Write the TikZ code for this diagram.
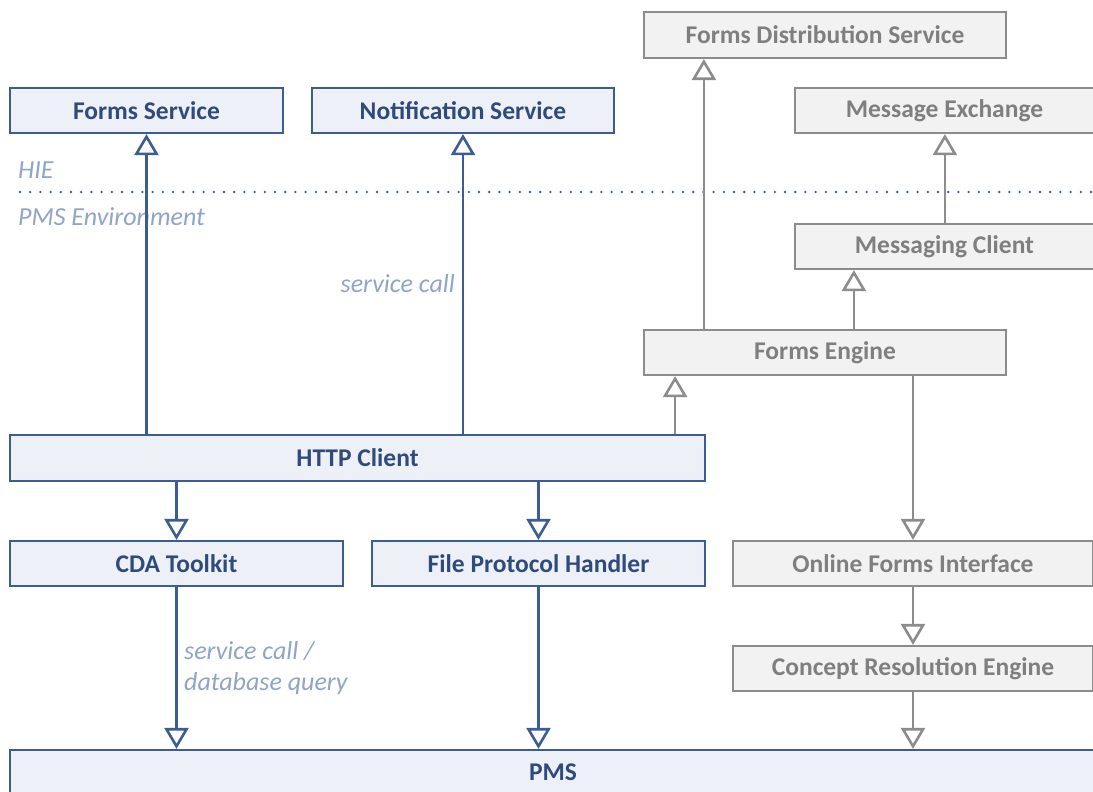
\documentclass[tikz,border=0pt]{standalone}
\usepackage{fontspec}
\setmainfont{Carlito}
\usetikzlibrary{arrows.meta}

\definecolor{pmsline}{HTML}{3B5D92}
\definecolor{pmsfill}{HTML}{EDF1F7}
\definecolor{pmstext}{HTML}{2F4B7C}
\definecolor{hieline}{HTML}{8C8C8C}
\definecolor{hiefill}{HTML}{F2F2F2}
\definecolor{hietext}{HTML}{7F7F7F}
\definecolor{notetext}{HTML}{8FA4C6}

\tikzset{
  pmsbox/.style={draw=pmsline, fill=pmsfill, text=pmstext, line width=2.2pt,
    inner sep=0pt, font=\bfseries\fontsize{25.5}{28}\selectfont},
  hiebox/.style={draw=hieline, fill=hiefill, text=hietext, line width=2.2pt,
    inner sep=0pt, font=\bfseries\fontsize{25.5}{28}\selectfont},
  note/.style={text=notetext, inner sep=0pt, font=\itshape\fontsize{26}{31}\selectfont},
  pmsarrow/.style={draw=pmsline, line width=2.6pt, -{Triangle[open,length=21pt,width=24pt]}},
  hiearrow/.style={draw=hieline, line width=2.6pt, -{Triangle[open,length=21pt,width=24pt]}}
}

\begin{document}
\begin{tikzpicture}[x=1pt,y=-1pt]
\clip (0,0) rectangle (1093,792);

% services in the HIE
\node[pmsbox, minimum width=273pt, minimum height=45pt] (fs) at (146.5,110.5) {Forms Service};
\node[pmsbox, minimum width=302pt, minimum height=45pt] (ns) at (463,110.5) {Notification Service};
\node[hiebox, minimum width=362pt, minimum height=46pt] (fds) at (825,35) {Forms Distribution Service};
\node[hiebox, minimum width=299pt, minimum height=45pt] (me) at (944.5,110.5) {Message Exchange};

% environment border
\draw[pmsline, line width=2.6pt, line cap=round, dash pattern=on 0pt off 10.2pt] (20,192) -- (1093,192);
\node[note, anchor=west] (hie) at (18,170) {HIE};
\node[note, anchor=west] (env) at (18,217) {PMS Environment};

% forms engine side
\node[hiebox, minimum width=299pt, minimum height=45pt] (mc) at (944.5,246.5) {Messaging Client};
\node[hiebox, minimum width=362pt, minimum height=45pt] (fe) at (825,352.5) {Forms Engine};

% http client and handlers
\node[pmsbox, minimum width=695pt, minimum height=46pt] (http) at (357.5,458) {HTTP Client};
\node[pmsbox, minimum width=333pt, minimum height=45pt] (cda) at (176.5,563.5) {CDA Toolkit};
\node[pmsbox, minimum width=333pt, minimum height=45pt] (fph) at (538.5,563.5) {File Protocol Handler};
\node[hiebox, minimum width=360pt, minimum height=45pt] (ofi) at (913,563.5) {Online Forms Interface};
\node[hiebox, minimum width=360pt, minimum height=45pt] (cre) at (913,668.5) {Concept Resolution Engine};

% practice management system
\node[pmsbox, minimum width=1086pt, minimum height=44pt] (pms) at (553,772) {PMS};

% calls into the HIE
\draw[pmsarrow] (http.north -| fs.south) -- (fs.south);
\draw[pmsarrow] (http.north -| ns.south) -- (ns.south);
\node[note, anchor=east] (call) at (455,284) {service call};

% forms engine links
\draw[hiearrow] ([xshift=-31pt]http.north east) -- ([xshift=-31pt]http.north east |- fe.south);
\draw[hiearrow] ([xshift=61pt]fe.north west) -- ([xshift=61pt]fe.north west |- fds.south);
\draw[hiearrow] ([xshift=60pt]mc.south west |- fe.north) -- ([xshift=60pt]mc.south west);
\draw[hiearrow] ([xshift=151pt]mc.north west) -- ([xshift=151pt]mc.north west |- me.south);
\draw[hiearrow] (fe.south -| ofi.north) -- (ofi.north);
\draw[hiearrow] (ofi.south) -- (cre.north);
\draw[hiearrow] (cre.south) -- (cre.south |- pms.north);

% down to the handlers and the PMS
\draw[pmsarrow] (http.south -| cda.north) -- (cda.north);
\draw[pmsarrow] (http.south -| fph.north) -- (fph.north);
\draw[pmsarrow] (cda.south) -- (cda.south |- pms.north);
\draw[pmsarrow] (fph.south) -- (fph.south |- pms.north);
\node[note, anchor=west, align=left] (query) at (184,668.5) {service call /\\database query};
\end{tikzpicture}
\end{document}
